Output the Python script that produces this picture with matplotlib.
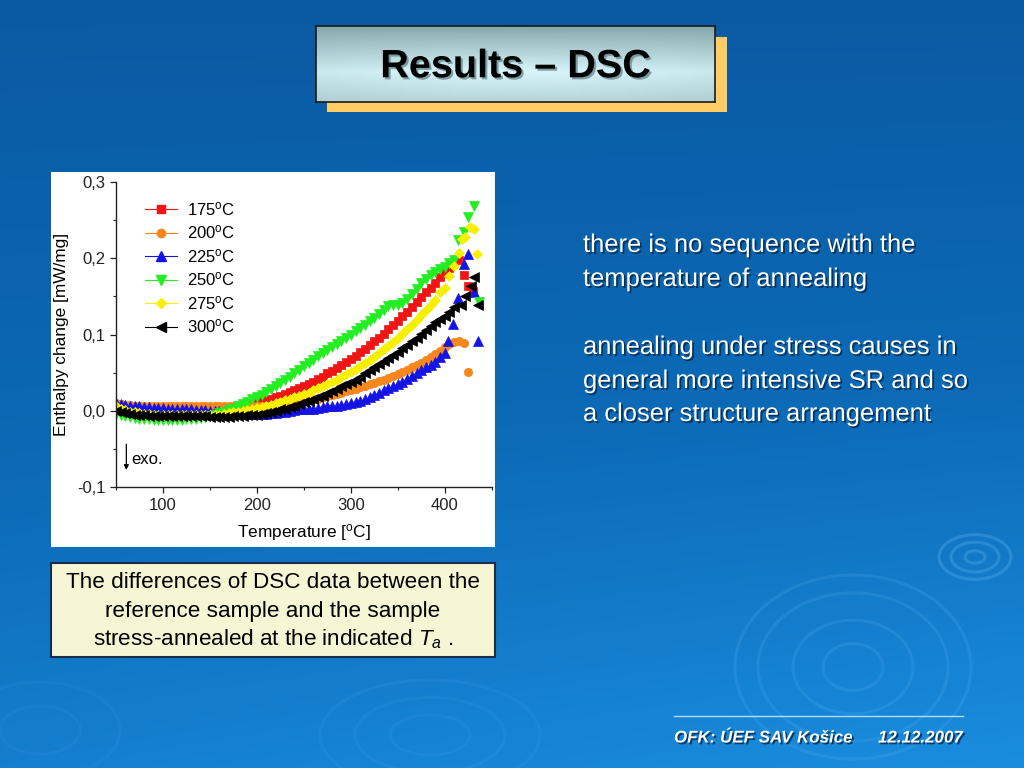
import numpy as np
import matplotlib
matplotlib.use('Agg')
import matplotlib.pyplot as plt
from matplotlib.patches import Rectangle, Ellipse
from matplotlib.lines import Line2D
from matplotlib.ticker import MultipleLocator
import matplotlib.patheffects as pe
from matplotlib.colors import LinearSegmentedColormap

plt.rcParams['font.family'] = ['Liberation Sans', 'DejaVu Sans']
plt.rcParams['mathtext.fontset'] = 'custom'
plt.rcParams['mathtext.rm'] = 'Liberation Sans'
plt.rcParams['mathtext.it'] = 'Liberation Sans:italic'
plt.rcParams['mathtext.bf'] = 'Liberation Sans:bold'

# ---------------- data ----------------
temps = list(range(50, 415, 5))          # 50 ... 410 degC, 73 points

t175 = [0.008, 0.007, 0.006, 0.006, 0.005, 0.005, 0.004, 0.004, 0.004, 0.003,
        0.003, 0.003, 0.003, 0.003, 0.003, 0.003, 0.003, 0.003, 0.003, 0.003,
        0.003, 0.003, 0.003, 0.004, 0.004, 0.005, 0.006, 0.007, 0.008, 0.010,
        0.011, 0.013, 0.014, 0.016, 0.018, 0.020, 0.022, 0.025, 0.027, 0.030,
        0.032, 0.035, 0.038, 0.042, 0.045, 0.049, 0.052, 0.056, 0.060, 0.064,
        0.068, 0.072, 0.077, 0.081, 0.086, 0.091, 0.096, 0.101, 0.107, 0.112,
        0.118, 0.124, 0.130, 0.136, 0.142, 0.149, 0.155, 0.161, 0.168, 0.175,
        0.181, 0.187, 0.193]
t175_tail_T = [415, 420, 425, 430]
t175_tail_v = [0.197, 0.178, 0.164, 0.157]

t200 = [0.010, 0.009, 0.008, 0.008, 0.007, 0.007, 0.006, 0.006, 0.006, 0.006,
        0.006, 0.006, 0.006, 0.006, 0.006, 0.006, 0.006, 0.006, 0.006, 0.006,
        0.006, 0.006, 0.006, 0.006, 0.006, 0.006, 0.006, 0.006, 0.006, 0.006,
        0.006, 0.006, 0.007, 0.007, 0.008, 0.008, 0.009, 0.010, 0.011, 0.012,
        0.013, 0.014, 0.015, 0.016, 0.018, 0.019, 0.021, 0.022, 0.024, 0.026,
        0.027, 0.029, 0.031, 0.033, 0.035, 0.037, 0.039, 0.041, 0.043, 0.046,
        0.048, 0.051, 0.054, 0.057, 0.060, 0.063, 0.067, 0.071, 0.075, 0.079,
        0.083, 0.087, 0.090]
t200_tail_T = [415, 420, 425]
t200_tail_v = [0.091, 0.089, 0.051]

t225 = [0.010, 0.009, 0.008, 0.007, 0.006, 0.006, 0.005, 0.005, 0.004, 0.004,
        0.004, 0.003, 0.003, 0.003, 0.002, 0.002, 0.002, 0.001, 0.001, 0.001,
        0.000, 0.000, 0.000, -0.001, -0.001, -0.002, -0.002, -0.003, -0.003, -0.004,
        -0.004, -0.004, -0.004, -0.003, -0.003, -0.002, -0.001, 0.000, 0.001, 0.002,
        0.002, 0.003, 0.003, 0.004, 0.005, 0.006, 0.007, 0.007, 0.008, 0.009,
        0.010, 0.012, 0.013, 0.015, 0.018, 0.021, 0.024, 0.027, 0.030, 0.032,
        0.035, 0.038, 0.042, 0.046, 0.049, 0.053, 0.057, 0.060, 0.064, 0.070,
        0.076]
t225_tail_T = [404, 409, 414, 420, 425, 431, 435]
t225_tail_v = [0.092, 0.114, 0.148, 0.192, 0.205, 0.156, 0.092]

t250 = [-0.004, -0.006, -0.007, -0.008, -0.009, -0.010, -0.011, -0.011, -0.012, -0.012,
        -0.012, -0.012, -0.012, -0.012, -0.012, -0.011, -0.011, -0.010, -0.009, -0.008,
        -0.007, -0.005, -0.003, -0.001, 0.001, 0.003, 0.006, 0.009, 0.012, 0.015,
        0.018, 0.021, 0.025, 0.029, 0.033, 0.037, 0.041, 0.045, 0.050, 0.054,
        0.059, 0.063, 0.067, 0.072, 0.076, 0.080, 0.084, 0.088, 0.092, 0.096,
        0.099, 0.104, 0.109, 0.113, 0.118, 0.122, 0.127, 0.132, 0.137, 0.139,
        0.139, 0.141, 0.146, 0.153, 0.160, 0.167, 0.173, 0.178, 0.182, 0.186,
        0.189, 0.193, 0.198]
t250_tail_T = [414, 420, 425, 431, 436]
t250_tail_v = [0.224, 0.234, 0.254, 0.268, 0.143]

t275 = [0.006, 0.003, 0.001, -0.001, -0.002, -0.003, -0.004, -0.004, -0.005, -0.005,
        -0.005, -0.005, -0.005, -0.005, -0.005, -0.005, -0.005, -0.005, -0.005, -0.005,
        -0.005, -0.005, -0.005, -0.004, -0.003, -0.002, -0.001, 0.000, 0.001, 0.003,
        0.004, 0.005, 0.007, 0.008, 0.010, 0.012, 0.014, 0.016, 0.018, 0.020,
        0.022, 0.024, 0.027, 0.030, 0.032, 0.035, 0.038, 0.041, 0.044, 0.048,
        0.051, 0.055, 0.059, 0.063, 0.067, 0.071, 0.076, 0.081, 0.085, 0.090,
        0.095, 0.101, 0.107, 0.113, 0.119, 0.126, 0.132, 0.139, 0.145, 0.155,
        0.161, 0.176, 0.190]
t275_tail_T = [415, 418, 422, 427, 431, 434]
t275_tail_v = [0.207, 0.225, 0.228, 0.241, 0.238, 0.205]

t300 = [0.000, -0.002, -0.003, -0.004, -0.005, -0.006, -0.006, -0.007, -0.007, -0.007,
        -0.007, -0.007, -0.007, -0.007, -0.007, -0.007, -0.007, -0.007, -0.007, -0.007,
        -0.008, -0.008, -0.008, -0.008, -0.008, -0.007, -0.007, -0.007, -0.006, -0.006,
        -0.005, -0.004, -0.003, -0.001, 0.000, 0.002, 0.003, 0.005, 0.007, 0.009,
        0.011, 0.013, 0.015, 0.018, 0.020, 0.023, 0.026, 0.029, 0.032, 0.035,
        0.038, 0.041, 0.045, 0.049, 0.053, 0.057, 0.061, 0.065, 0.069, 0.073,
        0.077, 0.082, 0.086, 0.091, 0.096, 0.101, 0.106, 0.111, 0.116, 0.120,
        0.124, 0.130, 0.136]
t300_tail_T = [417, 422, 428, 431, 435]
t300_tail_v = [0.139, 0.150, 0.164, 0.175, 0.138]

labels = ['175$^{\\rm o}$C', '200$^{\\rm o}$C', '225$^{\\rm o}$C',
          '250$^{\\rm o}$C', '275$^{\\rm o}$C', '300$^{\\rm o}$C']
x_ticks = [100, 200, 300, 400]
y_ticks = [-0.1, 0.0, 0.1, 0.2, 0.3]
y_ticklabels = ['-0,1', '0,0', '0,1', '0,2', '0,3']

bullets = ['there is no sequence with the', 'temperature of annealing', '',
           'annealing under stress causes in', 'general more intensive SR and so',
           'a closer structure arrangement']

# ---------------- figure ----------------
fig = plt.figure(figsize=(10.24, 7.68), dpi=100)
bg = fig.add_axes([0, 0, 1, 1])
yy = np.linspace(0, 1, 300)[:, None]
xx = np.linspace(0, 1, 300)[None, :]
grad = 0.8 * yy + 0.2 * xx * yy
cmap = LinearSegmentedColormap.from_list('bgc', ['#0a5aa3', '#0c6ab6', '#1a8ddf'])
bg.imshow(grad, cmap=cmap, extent=(0, 1024, 768, 0), aspect='auto', zorder=0)
bg.set_xlim(0, 1024)
bg.set_ylim(768, 0)
bg.axis('off')

# decorative ripples
for cx, cy, rads, asp, al in [(975, 557, [10, 24, 36], 0.62, 0.3),
                              (853, 667, [30, 60, 95, 118], 0.78, 0.18),
                              (430, 735, [40, 75, 110], 0.5, 0.1),
                              (40, 730, [40, 80], 0.6, 0.08)]:
    for r in rads:
        bg.add_patch(Ellipse((cx, cy), 2 * r, 2 * r * asp, fill=False,
                             ec='#62b8f5', alpha=al, lw=2.2, zorder=1))

# title box
bg.add_patch(Rectangle((327, 37), 400, 75, fc='#ffcc66', ec='none', zorder=2))
tax = fig.add_axes([316 / 1024, 1 - 102 / 768, 399 / 1024, 76 / 768])
vg = np.concatenate([np.linspace(0, 1, 60), np.linspace(1, 0.6, 40)])[:, None]
hg = (0.85 + 0.15 * np.sin(np.linspace(0, np.pi, 200)))[None, :]
tcmap = LinearSegmentedColormap.from_list('tb', ['#86a8ad', '#d6f4f9'])
tax.imshow(vg * hg, cmap=tcmap, aspect='auto', extent=(0, 1, 0, 1), vmin=0, vmax=1)
tax.set_xlim(0, 1)
tax.set_ylim(0, 1)
tax.set_xticks([])
tax.set_yticks([])
for s in tax.spines.values():
    s.set_color('#1a1a1a')
    s.set_linewidth(1.2)
tax.text(0.5, 0.47, 'Results – DSC', ha='center', va='center', fontsize=28.5,
         fontweight='bold', color='black',
         path_effects=[pe.withSimplePatchShadow(offset=(1.5, -1.5), shadow_rgbFace='#6a8a90', alpha=0.8)])

# chart panel
bg.add_patch(Rectangle((51, 172), 444, 375, fc='white', ec='none', zorder=2))

# caption box
bg.add_patch(Rectangle((51, 563), 444, 94, fc='#f6f6d4', ec='#1b2b4b', lw=1.5, zorder=2))
cap_lines = ['The differences of DSC data between the', 'reference sample and the sample',
             'stress-annealed at the indicated $T_a$ .']
for i, ln in enumerate(cap_lines):
    bg.text(273, 583 + 28 * i, ln, ha='center', va='center', fontsize=16.2, color='black', zorder=3)

# bullets text
shadow = [pe.withSimplePatchShadow(offset=(1.3, -1.3), shadow_rgbFace='#002244', alpha=0.75)]
ys = [245, 279, 313, 347, 381, 414]
for y, ln in zip(ys, bullets):
    if ln:
        bg.text(583, y, ln, ha='left', va='center', fontsize=18.4, color='white',
                path_effects=shadow, zorder=3)

# footer
bg.plot([674, 963], [716, 716], color='#b0dcff', lw=1, zorder=3)
bg.text(674, 738, 'OFK: ÚEF SAV Košice', ha='left', va='center', fontsize=12.2,
        fontweight='bold', style='italic', color='white', path_effects=shadow, zorder=3)
bg.text(878, 738, '12.12.2007', ha='left', va='center', fontsize=12.2,
        fontweight='bold', style='italic', color='white', path_effects=shadow, zorder=3)

# ---------------- data axes ----------------
ax = fig.add_axes([116 / 1024, 1 - 487.3 / 768, 375.7 / 1024, 305.6 / 768])
ax.set_facecolor('white')

series = [
    (temps + t175_tail_T, t175 + t175_tail_v, 's', '#f01414', 5.5),
    (temps + t200_tail_T, t200 + t200_tail_v, 'o', '#f7861c', 6.0),
    (temps[:len(t225)] + t225_tail_T, t225 + t225_tail_v, '^', '#1414e6', 6.5),
    (temps + t250_tail_T, t250 + t250_tail_v, 'v', '#22ee22', 6.5),
    (temps + t275_tail_T, t275 + t275_tail_v, 'D', '#f8f000', 5.0),
    (temps + t300_tail_T, t300 + t300_tail_v, '<', '#000000', 6.5),
]
handles = []
for T, v, m, c, ms in series:
    ax.plot(T, v, linestyle='none', marker=m, ms=ms, color=c, mec=c, mew=0.5)
    handles.append(Line2D([], [], color=c, lw=0.8, marker=m, ms=ms, mfc=c, mec=c))

ax.set_xlim(50, 450)
ax.set_ylim(-0.1, 0.3)
ax.set_xticks(x_ticks)
ax.set_yticks(y_ticks)
ax.set_yticklabels(y_ticklabels)
ax.xaxis.set_minor_locator(MultipleLocator(50))
ax.yaxis.set_minor_locator(MultipleLocator(0.05))
for s in ['top', 'right']:
    ax.spines[s].set_visible(False)
for s in ['left', 'bottom']:
    ax.spines[s].set_linewidth(1.0)
    ax.spines[s].set_color('#222222')
ax.tick_params(which='major', direction='out', length=4, width=0.9, labelsize=12, colors='#222222')
ax.tick_params(which='minor', direction='out', length=2.5, width=0.8, colors='#222222')
ax.set_xlabel('Temperature [$^{\\rm o}$C]', fontsize=12.4, labelpad=7)
ax.set_ylabel('Enthalpy change [mW/mg]', fontsize=12.4, labelpad=6)

ax.legend(handles, labels, loc='upper left', bbox_to_anchor=(0.078, 0.94), frameon=False,
          handlelength=1.9, handletextpad=0.6, labelspacing=0.33, borderaxespad=0,
          borderpad=0, fontsize=12)

ax.annotate('', xy=(61, -0.081), xytext=(61, -0.040),
            arrowprops=dict(arrowstyle='-|>', color='black', lw=0.9, mutation_scale=7))
ax.text(66, -0.063, 'exo.', ha='left', va='center', fontsize=12)

fig.savefig('out.png', dpi=100)
